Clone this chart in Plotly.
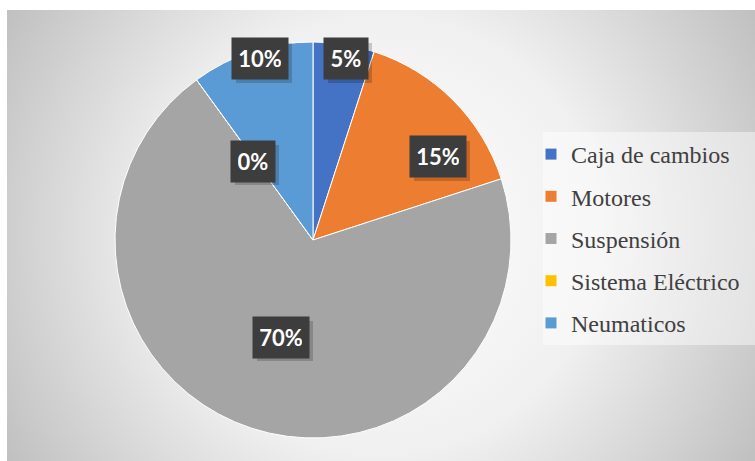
import base64
import plotly.graph_objects as go

# Data
categories = ["Caja de cambios", "Motores", "Suspensión", "Sistema Eléctrico", "Neumaticos"]
shares = [5, 15, 70, 0, 10]
colors = ["#4472C4", "#ED7D31", "#A5A5A5", "#FFC000", "#5B9BD5"]

# Data-label box centres, in pixels from the top-left of the page
label_px = [(346, 59), (438, 157), (281, 337), (253, 161), (260, 59)]

W, H = 755, 461
total = sum(shares)

# Radial gradient background for the chart area
bg_svg = f"""<svg xmlns='http://www.w3.org/2000/svg' width='748' height='451'>
<defs><radialGradient id='g' gradientUnits='userSpaceOnUse' cx='374' cy='225' r='441'>
<stop offset='0' stop-color='#ffffff'/><stop offset='0.5' stop-color='#f0f0f0'/>
<stop offset='1' stop-color='#bfbfbf'/></radialGradient></defs>
<rect width='748' height='451' fill='url(#g)'/></svg>"""
bg_uri = "data:image/svg+xml;base64," + base64.b64encode(bg_svg.encode()).decode()

fig = go.Figure()

fig.add_trace(go.Pie(
    labels=categories,
    values=shares,
    sort=False,
    direction="clockwise",
    rotation=0,
    marker=dict(colors=colors, line=dict(color="#ffffff", width=1)),
    textinfo="none",
    showlegend=False,
    domain=dict(x=[(313 - 198) / W, (313 + 198) / W],
                y=[(221 - 198) / H, (221 + 198) / H]),
))

# Legend entries
for name, col in zip(categories, colors):
    fig.add_trace(go.Scatter(
        x=[None], y=[None], mode="markers", name=name, legendgroup=name,
        marker=dict(symbol="square", size=11, color=col),
    ))

annotations = []
shapes = [dict(type="rect", xref="paper", yref="paper",
               x0=543 / W, x1=1.0, y0=1 - 345 / H, y1=1 - 132 / H,
               fillcolor="rgba(255,255,255,0.45)", line=dict(width=0), layer="below")]
for v, (px, py) in zip(shares, label_px):
    txt = f"{round(v / total * 100)}%"
    half_w = 10 + 6 * len(txt)
    # soft drop shadow under each label box
    shapes.append(dict(type="rect", xref="paper", yref="paper",
                       xsizemode="pixel", ysizemode="pixel",
                       xanchor=px / W, yanchor=1 - py / H,
                       x0=-half_w + 4, x1=half_w + 4, y0=-20 - 4, y1=20 - 4,
                       fillcolor="rgba(0,0,0,0.18)", line=dict(width=0), layer="above"))
    annotations.append(dict(text=txt, x=px / W, y=1 - py / H, xref="paper", yref="paper",
                            showarrow=False, borderpad=7, xanchor="center", yanchor="middle",
                            width=2 * half_w - 14, align="center",
                            font=dict(family="Lato", size=22, color="#ffffff", weight="bold"),
                            bgcolor="#3d3d3d"))

fig.update_layout(
    width=W, height=H,
    margin=dict(l=0, r=0, t=0, b=0),
    paper_bgcolor="#ffffff",
    plot_bgcolor="rgba(0,0,0,0)",
    xaxis=dict(visible=False),
    yaxis=dict(visible=False),
    images=[dict(source=bg_uri, xref="paper", yref="paper", x=7 / W, y=1 - 10 / H,
                 sizex=748 / W, sizey=451 / H, xanchor="left", yanchor="top",
                 sizing="stretch", layer="below")],
    shapes=shapes,
    legend=dict(x=531 / W, y=1 - 132 / H, xanchor="left", yanchor="top",
                bgcolor="rgba(0,0,0,0)", tracegroupgap=8,
                font=dict(family="Liberation Serif", size=24, color="#404040")),
    annotations=annotations,
)

fig.write_html("out.html")
